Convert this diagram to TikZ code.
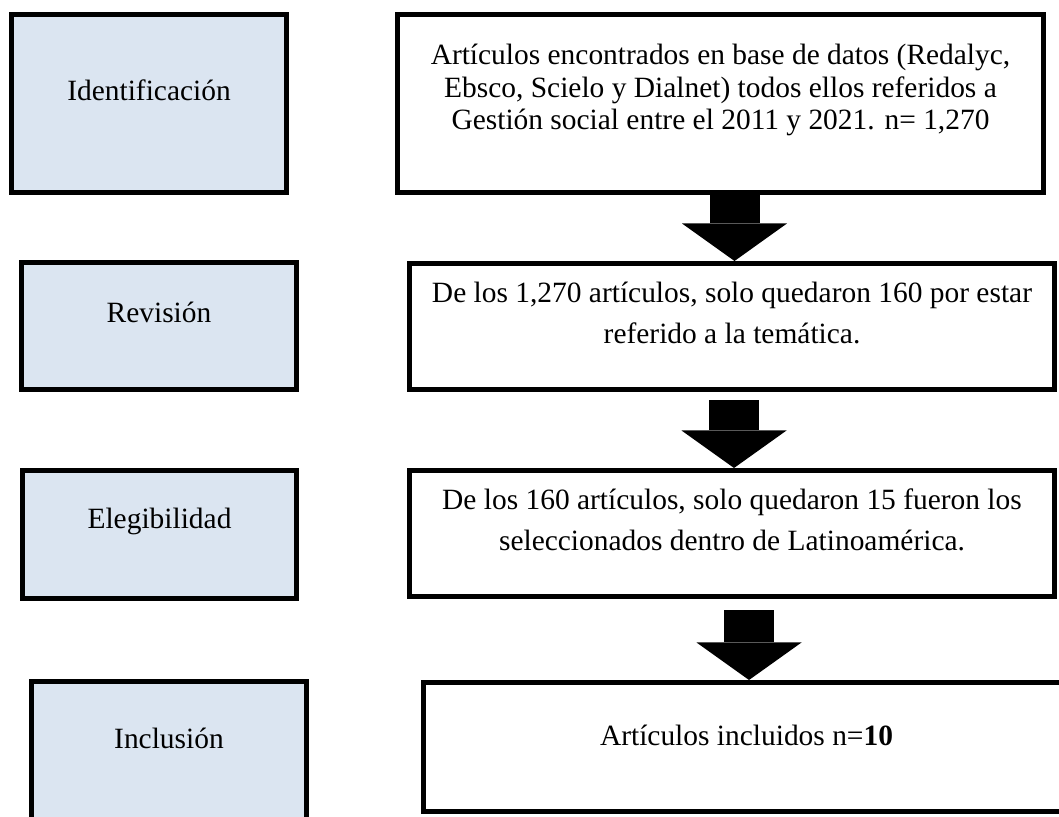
\documentclass[tikz,border=0pt]{standalone}
\usepackage{fontspec}
\setmainfont{Liberation Serif}
\usetikzlibrary{arrows.meta}
\definecolor{stageblue}{HTML}{DBE5F1}

\begin{document}
\begin{tikzpicture}[
  box/.style={draw=black, line width=0.08cm, inner sep=0pt},
  stage/.style={box, fill=stageblue, minimum width=4.4cm},
  stepbox/.style={box, fill=white, minimum width=10.32cm},
  lift/.style={yshift=0.216cm, align=center, font=\fontsize{13.4pt}{14.6pt}\selectfont},
  liftwide/.style={lift, font=\fontsize{13.4pt}{18.8pt}\selectfont},
  fatarrow/.style={line width=0.8cm, -{Triangle[width=1.68cm, length=0.6cm, line width=0pt]}}
]
\useasboundingbox (0,0) rectangle (16.944,13.056);

\node[stage, minimum height=2.848cm, label={[lift]center:Identificación}] (ident) at (2.384,11.4) {};
\node[stepbox, minimum width=10.336cm, minimum height=2.848cm, label={[lift]center:{Artículos encontrados en base de datos (Redalyc,\\Ebsco, Scielo y Dialnet) todos ellos referidos a\\Gestión social entre el 2011 y 2021. n= 1,270}}] (found) at (11.528,11.4) {};

\node[stage, minimum height=2.032cm, label={[lift]center:Revisión}] (review) at (2.544,7.84) {};
\node[stepbox, minimum height=2.016cm, label={[liftwide]center:{De los 1,270 artículos, solo quedaron 160 por estar\\referido a la temática.}}] (kept) at (11.712,7.832) {};

\node[stage, minimum width=4.384cm, minimum height=2.048cm, label={[lift]center:Elegibilidad}] (elig) at (2.552,4.504) {};
\node[stepbox, minimum height=2.016cm, label={[liftwide]center:{De los 160 artículos, solo quedaron 15 fueron los\\seleccionados dentro de Latinoamérica.}}] (chosen) at (11.712,4.52) {};

\node[stage, minimum height=2.24cm, label={[lift]center:Inclusión}] (inclu) at (2.704,1.032) {};
\node[stepbox, minimum width=10.336cm, minimum height=2.064cm, label={[lift, yshift=-0.024cm]center:{Artículos incluidos n=\textbf{10}}}] (included) at (11.944,1.104) {};

\coordinate (a1) at ([xshift=0.224cm]found.south);
\draw[fatarrow] (a1) -- (a1 |- kept.north);
\coordinate (a2) at ([xshift=0.032cm, yshift=-0.136cm]kept.south);
\draw[fatarrow] (a2) -- (a2 |- chosen.north);
\coordinate (a3) at ([xshift=0.272cm, yshift=-0.184cm]chosen.south);
\draw[fatarrow] (a3) -- (a3 |- included.north);
\end{tikzpicture}
\end{document}
